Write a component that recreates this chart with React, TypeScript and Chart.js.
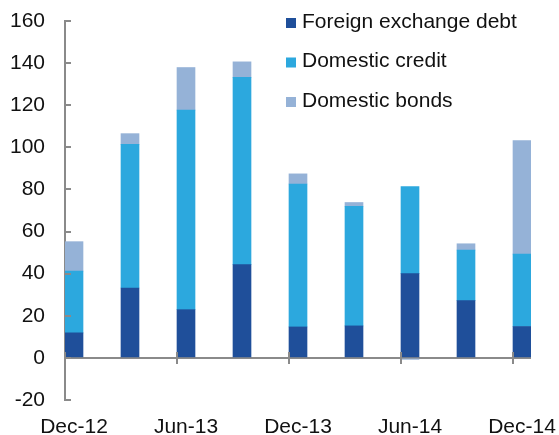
import React, { useEffect, useRef } from "react";
import { Chart, registerables } from "chart.js";

Chart.register(...registerables);

// ---- Data ----
const categories = ["Dec-12", "Mar-13", "Jun-13", "Sep-13", "Dec-13", "Mar-14", "Jun-14", "Sep-14", "Dec-14"];
const foreignExchangeDebt = [11.9, 33.2, 22.9, 44.3, 14.7, 15.2, 40.0, 27.2, 14.9];
const domesticCredit = [29.3, 68.2, 94.8, 88.9, 67.9, 56.8, 41.4, 24.0, 34.4];
const domesticBonds = [14.0, 5.1, 20.2, 7.4, 4.8, 1.8, -0.7, 3.0, 53.9];
const labeledCategoryIndices = [0, 2, 4, 6, 8];
const seriesNames = ["Foreign exchange debt", "Domestic credit", "Domestic bonds"];
const yMin = -20;
const yMax = 160;
const yStep = 20;

// ---- Style ----
const COLORS = ["#1f4f9a", "#2ca8de", "#95b2d7"];
const AXIS_COLOR = "#8a8a8a";
const TEXT_COLOR = "#111111";
const FONT_FAMILY = "'Liberation Sans', Arial, Helvetica, sans-serif";
const FONT_SIZE = 21;
const BAR_THICKNESS = 18;
const CATEGORY_SPACING = 56;
const HALF = BAR_THICKNESS / 2 / CATEGORY_SPACING;

const axisMarksPlugin = {
  id: "axisMarks",
  afterDatasetsDraw(chart: any) {
    const { ctx, chartArea, scales } = chart;
    const x = scales.x;
    const y = scales.y;
    ctx.save();
    ctx.strokeStyle = AXIS_COLOR;
    ctx.lineWidth = 2;
    // inward y tick marks
    y.ticks.forEach((t: any) => {
      const py = Math.round(y.getPixelForValue(t.value));
      ctx.beginPath();
      ctx.moveTo(chartArea.left, py);
      ctx.lineTo(chartArea.left + 6, py);
      ctx.stroke();
    });
    // category tick marks crossing zero line at bar left edges
    const y0 = y.getPixelForValue(0);
    x.ticks.forEach((t: any) => {
      const px = Math.round(x.getPixelForValue(t.value) - BAR_THICKNESS / 2);
      ctx.beginPath();
      ctx.moveTo(px, y0 - 6);
      ctx.lineTo(px, y0 + 6);
      ctx.stroke();
    });
    ctx.restore();
  },
};

const legendPlugin = {
  id: "floatingLegend",
  afterDraw(chart: any) {
    const { ctx } = chart;
    const rows = [22, 61.5, 101];
    const boxX = 286;
    const textX = 302;
    ctx.save();
    ctx.font = `${FONT_SIZE}px ${FONT_FAMILY}`;
    ctx.textBaseline = "middle";
    ctx.textAlign = "left";
    chart.data.datasets.forEach((ds: any, i: number) => {
      const cy = rows[i];
      ctx.fillStyle = ds.backgroundColor;
      ctx.fillRect(boxX, cy - 4, 10, 10);
      ctx.fillStyle = TEXT_COLOR;
      ctx.fillText(ds.label, textX, cy);
    });
    ctx.restore();
  },
};

export default function App() {
  const canvasRef = useRef<HTMLCanvasElement | null>(null);

  useEffect(() => {
    if (!canvasRef.current) return;
    const series = [foreignExchangeDebt, domesticCredit, domesticBonds];
    const chart = new Chart(canvasRef.current, {
      type: "bar",
      data: {
        datasets: series.map((values, i) => ({
          label: seriesNames[i],
          data: values.map((v, idx) => ({ x: idx, y: v })),
          backgroundColor: COLORS[i],
          borderWidth: 0,
          barThickness: BAR_THICKNESS,
          stack: "s",
        })),
      },
      options: {
        animation: false,
        responsive: true,
        maintainAspectRatio: false,
        layout: { padding: { top: 21, right: 28, left: 0, bottom: 0 } },
        plugins: {
          legend: { display: false },
          tooltip: { enabled: false },
        },
        scales: {
          x: {
            type: "linear",
            offset: false,
            min: -HALF,
            max: categories.length - 1 + HALF,
            grid: { display: false, drawTicks: false, offset: false },
            border: { display: false },
            afterBuildTicks: (s: any) => {
              s.ticks = labeledCategoryIndices.map((v) => ({ value: v }));
            },
            afterFit: (s: any) => {
              s.height = 35;
              s.paddingLeft = 0;
              s.paddingRight = 0;
            },
            ticks: {
              autoSkip: false,
              maxRotation: 0,
              padding: 15,
              color: TEXT_COLOR,
              font: { family: FONT_FAMILY, size: FONT_SIZE },
              callback: (v: any) => categories[v] ?? "",
            },
          },
          y: {
            stacked: true,
            min: yMin,
            max: yMax,
            afterFit: (s: any) => {
              s.width = 65;
            },
            grid: {
              drawTicks: true,
              tickLength: 20,
              tickColor: "rgba(0,0,0,0)",
              lineWidth: 2,
              color: (c: any) => (c.tick && c.tick.value === 0 ? AXIS_COLOR : "rgba(0,0,0,0)"),
            },
            border: { display: true, color: AXIS_COLOR, width: 2 },
            ticks: {
              stepSize: yStep,
              padding: 0,
              color: TEXT_COLOR,
              font: { family: FONT_FAMILY, size: FONT_SIZE },
            },
          },
        },
      },
      plugins: [axisMarksPlugin, legendPlugin],
    } as any);
    return () => chart.destroy();
  }, []);

  return (
    <div style={{ position: "fixed", left: 0, top: 0, width: 559, height: 435, background: "#fff" }}>
      <canvas ref={canvasRef} />
    </div>
  );
}
